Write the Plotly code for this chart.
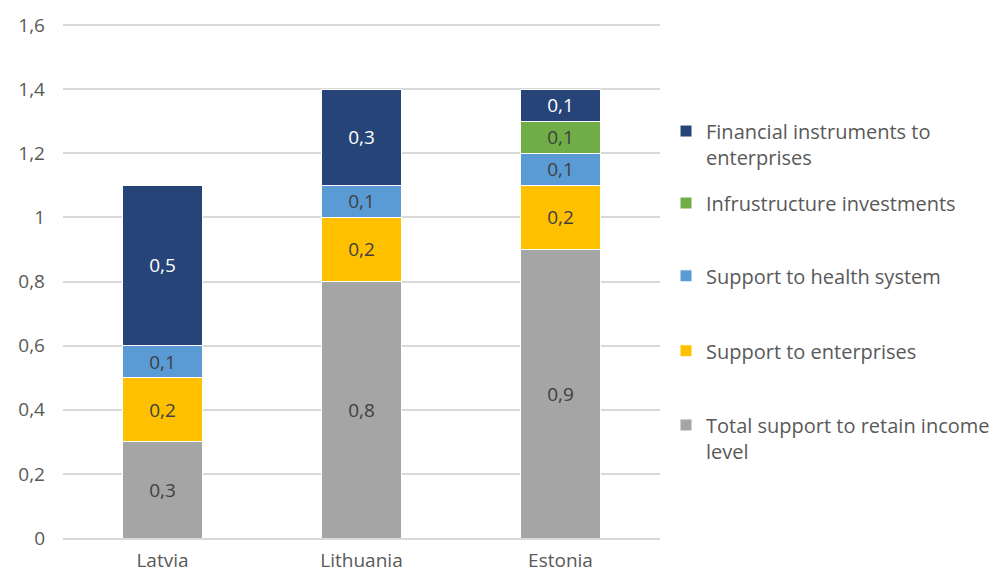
import plotly.graph_objects as go

countries = ["Latvia", "Lithuania", "Estonia"]
total_income = [0.3, 0.8, 0.9]
enterprises = [0.2, 0.2, 0.2]
health = [0.1, 0.1, 0.1]
infrastructure = [None, None, 0.1]
financial = [0.5, 0.3, 0.1]

series = [
    ("Total support to retain income<br>level", total_income, "#A5A5A5", "#404040", "legend5", 0.195),
    ("Support to enterprises", enterprises, "#FFC000", "#404040", "legend4", 0.365),
    ("Support to health system", health, "#5B9BD5", "#404040", "legend3", 0.511),
    ("Infrustructure investments", infrastructure, "#70AD47", "#404040", "legend2", 0.653),
    ("Financial instruments to<br>enterprises", financial, "#264478", "#FFFFFF", "legend", 0.768),
]

FONT = "'Open Sans', sans-serif"
TOP = 20
BOTTOM = 37
LEFT = 63
RIGHT = 345
PLOT_H = 575 - TOP - BOTTOM
fig = go.Figure()
legends = {}
for name, vals, color, tcolor, lg, ly in series:
    fig.add_trace(go.Bar(
        x=countries, y=vals, name=name,
        marker=dict(color=color, line=dict(color="white", width=1)),
        texttemplate="%{y:.1f}", textposition="inside", insidetextanchor="middle",
        textfont=dict(color=tcolor, size=19, family=FONT),
        legend=lg, showlegend=True,
    ))
    legends[lg] = dict(xref="container", x=666 / 1005, y=ly * 513 / PLOT_H,
                       xanchor="left", yanchor="middle",
                       font=dict(size=20, color="#595959", family=FONT),
                       bgcolor="rgba(0,0,0,0)", valign="top",
                       itemclick=False, visible=True)

fig.update_layout(
    barmode="stack",
    bargap=0.595,
    width=1005, height=575,
    margin=dict(l=LEFT, r=RIGHT, t=TOP, b=BOTTOM, autoexpand=False),
    paper_bgcolor="white", plot_bgcolor="white",
    separators=", ",
    showlegend=True,
    font=dict(family=FONT, color="#595959", size=19),
    **legends,
)
fig.update_yaxes(range=[0, 1.6 * PLOT_H / 513], dtick=0.2, tick0=0, showgrid=True, gridcolor="#D9D9D9",
                 gridwidth=1.5, zeroline=False, showline=False, automargin=False,
                 tickfont=dict(size=19, color="#595959"), ticklabelstandoff=17)
fig.update_xaxes(showline=True, linecolor="#D9D9D9", linewidth=1.5, automargin=False,
                 tickfont=dict(size=19, color="#595959"), ticklabelstandoff=4)
fig.write_html("out.html")
